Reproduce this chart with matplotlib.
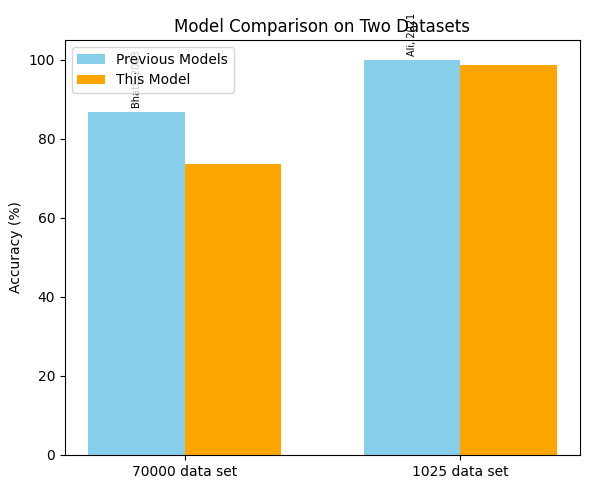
import numpy as np
import matplotlib.pyplot as plt

datasets = ["70000 data set", "1025 data set"]
previous = [86.7, 100.0]
this_model = [73.5, 98.6]
refs = ["Bhatt, 2023", "Ali, 2021"]

x = np.arange(len(datasets))
width = 0.35

fig, ax = plt.subplots(figsize=(5.9, 4.88))
b1 = ax.bar(x - width / 2, previous, width, label="Previous Models", color="skyblue")
ax.bar(x + width / 2, this_model, width, label="This Model", color="orange")

# reference names above previous-model bars
for rect, ref in zip(b1, refs):
    ax.text(rect.get_x() + rect.get_width() / 2, rect.get_height() + 1, ref,
            rotation=90, ha="center", va="bottom", fontsize=7)

ax.set_xticks(x)
ax.set_xticklabels(datasets)
ax.set_ylabel("Accuracy (%)")
ax.set_title("Model Comparison on Two Datasets")
ax.legend(loc="upper left")
fig.subplots_adjust(left=0.11, right=0.983, top=0.918, bottom=0.068)
fig.savefig("out.png", dpi=100)
